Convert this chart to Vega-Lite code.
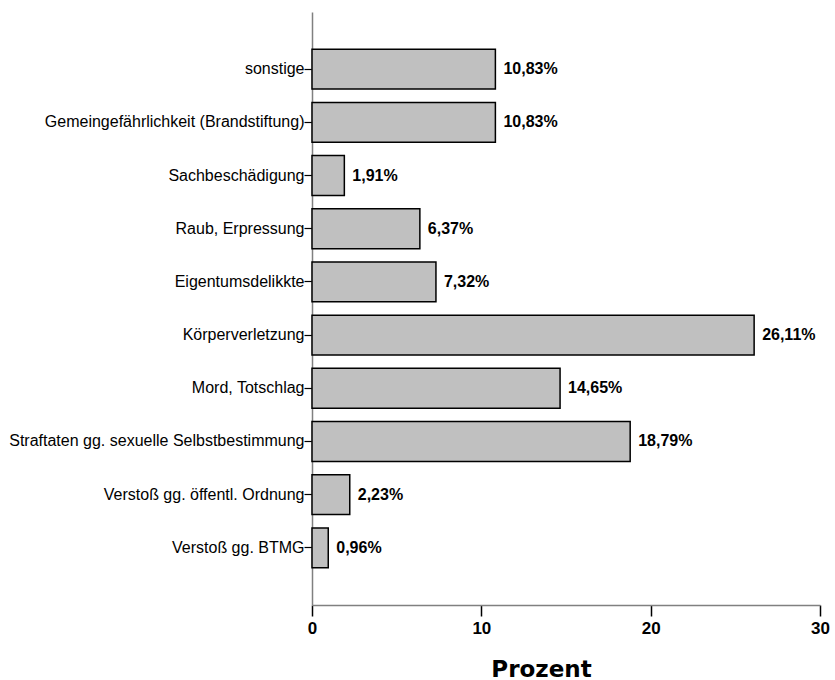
{
  "$schema": "https://vega.github.io/schema/vega-lite/v6.json",
  "width": 508,
  "height": 593,
  "autosize": {"type": "none"},
  "padding": {"left": 312, "top": 12, "right": 15, "bottom": 75},
  "background": "white",
  "data": {
    "values": [
      {"category": "sonstige", "value": 10.83, "label": "10,83%"},
      {"category": "Gemeingefährlichkeit (Brandstiftung)", "value": 10.83, "label": "10,83%"},
      {"category": "Sachbeschädigung", "value": 1.91, "label": "1,91%"},
      {"category": "Raub, Erpressung", "value": 6.37, "label": "6,37%"},
      {"category": "Eigentumsdelikkte", "value": 7.32, "label": "7,32%"},
      {"category": "Körperverletzung", "value": 26.11, "label": "26,11%"},
      {"category": "Mord, Totschlag", "value": 14.65, "label": "14,65%"},
      {"category": "Straftaten gg. sexuelle Selbstbestimmung", "value": 18.79, "label": "18,79%"},
      {"category": "Verstoß gg. öffentl. Ordnung", "value": 2.23, "label": "2,23%"},
      {"category": "Verstoß gg. BTMG", "value": 0.96, "label": "0,96%"}
    ]
  },
  "encoding": {
    "y": {
      "field": "category",
      "type": "nominal",
      "sort": null,
      "scale": {"paddingInner": 0.25, "paddingOuter": 0.7},
      "axis": {
        "title": null,
        "tickSize": 8,
        "tickColor": "#000000",
        "tickWidth": 1.2,
        "domainColor": "#808080",
        "domainWidth": 1.5,
        "labelPadding": 0,
        "labelFont": "Liberation Sans",
        "labelFontSize": 16,
        "labelColor": "#000000",
        "labelLimit": 400
      }
    },
    "x": {
      "field": "value",
      "type": "quantitative",
      "scale": {"domain": [0, 30], "nice": false},
      "axis": {
        "values": [0, 10, 20, 30],
        "grid": false,
        "labelFlush": false,
        "tickSize": 11,
        "tickColor": "#000000",
        "tickWidth": 1.5,
        "domainColor": "#808080",
        "domainWidth": 1.5,
        "labelFont": "Liberation Sans",
        "labelFontSize": 17,
        "labelFontWeight": "bold",
        "labelColor": "#000000",
        "labelPadding": 4,
        "title": "Prozent",
        "titleFont": "DejaVu Sans",
        "titleFontSize": 23,
        "titleFontWeight": "bold",
        "titleColor": "#000000",
        "titleX": 229,
        "titleY": 71,
        "titleBaseline": "alphabetic"
      }
    }
  },
  "layer": [
    {
      "mark": {"type": "bar", "fill": "#c0c0c0", "stroke": "#000000", "strokeWidth": 1.5}
    },
    {
      "mark": {
        "type": "text",
        "align": "left",
        "baseline": "middle",
        "dx": 8,
        "font": "Liberation Sans",
        "fontSize": 16,
        "fontWeight": "bold",
        "color": "#000000"
      },
      "encoding": {"text": {"field": "label"}}
    }
  ],
  "config": {"view": {"stroke": null}}
}
